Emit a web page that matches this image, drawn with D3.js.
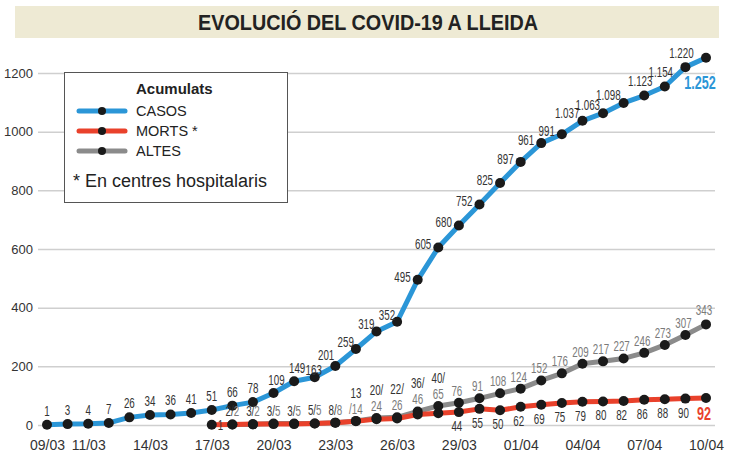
<html>
<head>
<meta charset="utf-8">
<title>Evolució del COVID-19 a Lleida</title>
<script src="https://d3js.org/d3.v7.min.js"></script>
<style>
    body { margin: 0; background: #fff; }
    svg text { font-family: "Liberation Sans", Arial, sans-serif; }
</style>
</head>
<body>
<svg id="chart" width="737" height="461"></svg>
<script>
// dates (dd/mm, 2020)
var dates = ["09/03","10/03","11/03","12/03","13/03","14/03","15/03","16/03","17/03","18/03","19/03",
             "20/03","21/03","22/03","23/03","24/03","25/03","26/03","27/03","28/03","29/03","30/03",
             "31/03","01/04","02/04","03/04","04/04","05/04","06/04","07/04","08/04","09/04","10/04"];
var tickDates = ["09/03","11/03","14/03","17/03","20/03","23/03","26/03","29/03","01/04","04/04","07/04","10/04"];
var yTicks = [0, 200, 400, 600, 800, 1000, 1200];

// acumulats
var casos = [1, 3, 4, 7, 26, 34, 36, 41, 51, 66, 78, 109, 149, 163, 201, 259, 319, 352, 495, 605, 680,
             752, 825, 897, 961, 991, 1037, 1063, 1098, 1123, 1154, 1220, 1252];
// morts start on 17/03, altes on 18/03
var mortsStart = "17/03";
var morts = [1, 2, 3, 3, 3, 5, 8, 13, 20, 22, 36, 40, 44, 55, 50, 62, 69, 75, 79, 80, 82, 86, 88, 90, 92];
var altesStart = "18/03";
var altes = [2, 2, 5, 5, 5, 8, 14, 24, 26, 46, 65, 76, 91, 108, 124, 152, 176, 209, 217, 227, 246, 273, 307, 343];

var blue = "#2b96d7", red = "#e9412b", grey = "#8b8b8b";
var darkText = "#333", greyText = "#7a7a7a";

var svg = d3.select("#chart");
var parse = d3.timeParse("%d/%m/%Y");
function toDate(s){ return parse(s + "/2020"); }

var x = d3.scaleTime()
    .domain([toDate(dates[0]), toDate(dates[dates.length - 1])])
    .range([47, 706]);
var y = d3.scaleLinear().domain([0, 1200]).range([425, 73]);

var fmt = d3.formatLocale({decimal: ",", thousands: ".", grouping: [3], currency: ["", "€"]}).format(",d");

function series(start, values){
    var k = dates.indexOf(start);
    return values.map(function(v, i){ return {i: k + i, date: toDate(dates[k + i]), value: v}; });
}
var casosData = series(dates[0], casos);
var mortsData = series(mortsStart, morts);
var altesData = series(altesStart, altes);

// title band
svg.append("rect").attr("x", 15).attr("y", 6).attr("width", 704).attr("height", 32).attr("fill", "#eeead4");
svg.append("text").attr("transform", "translate(368,30) scale(0.9,1)").attr("text-anchor", "middle")
    .attr("font-size", 22).attr("font-weight", "bold").attr("fill", "#222")
    .text("EVOLUCIÓ DEL COVID-19 A LLEIDA");

// grid + y labels
var yAxis = d3.axisLeft(y).tickValues(yTicks).tickFormat(d3.format("d")).tickSize(-677).tickPadding(5);
var gy = svg.append("g").attr("transform", "translate(38,0)").call(yAxis);
gy.select(".domain").remove();
gy.selectAll(".tick line").attr("stroke", "#cfcfcf").attr("stroke-width", 1.5);
gy.selectAll(".tick text").attr("font-size", 13).attr("fill", darkText).attr("font-family", null);

// x labels
var xAxis = d3.axisBottom(x).tickValues(tickDates.map(toDate)).tickFormat(d3.timeFormat("%d/%m")).tickSize(0).tickPadding(0);
var gx = svg.append("g").attr("transform", "translate(0,440)").call(xAxis);
gx.select(".domain").remove();
gx.selectAll(".tick text").attr("font-size", 14).attr("fill", darkText).attr("font-family", null);

// legend box
var lg = svg.append("g");
lg.append("rect").attr("x", 64.5).attr("y", 72.5).attr("width", 223).attr("height", 130)
    .attr("fill", "#fff").attr("stroke", "#555").attr("stroke-width", 1);
lg.append("text").attr("x", 136).attr("y", 89).attr("dy", "0.35em").attr("font-size", 15).attr("font-weight", "bold")
    .attr("fill", "#222").text("Acumulats");
var legendItems = [["CASOS", blue], ["MORTS *", red], ["ALTES", grey]];
legendItems.forEach(function(d, k){
    var ly = 111 + k * 20;
    lg.append("line").attr("x1", 79).attr("x2", 125).attr("y1", ly).attr("y2", ly)
        .attr("stroke", d[1]).attr("stroke-width", 5).attr("stroke-linecap", "round");
    lg.append("circle").attr("cx", 102).attr("cy", ly).attr("r", 4).attr("fill", "#1a1a1a");
    lg.append("text").attr("x", 136).attr("y", ly).attr("dy", "0.35em").attr("font-size", 14.5)
        .attr("fill", "#222").text(d[0]);
});
lg.append("text").attr("x", 73).attr("y", 181).attr("dy", "0.35em").attr("font-size", 18)
    .attr("fill", "#222").text("* En centres hospitalaris");

// lines
var line = d3.line().x(function(d){ return x(d.date); }).y(function(d){ return y(d.value); });
function drawSeries(data, color){
    svg.append("path").datum(data).attr("d", line).attr("fill", "none")
        .attr("stroke", color).attr("stroke-width", 5).attr("stroke-linejoin", "round");
}
drawSeries(altesData, grey);
drawSeries(mortsData, red);
drawSeries(casosData, blue);

[altesData, mortsData, casosData].forEach(function(data){
    svg.append("g").selectAll("circle").data(data).join("circle")
        .attr("cx", function(d){ return x(d.date); })
        .attr("cy", function(d){ return y(d.value); })
        .attr("r", 5).attr("fill", "#1a1a1a");
});

// labels (squeezed horizontally, the original uses a condensed face)
var labels = svg.append("g").attr("font-size", 14);
function label(px, py, txt, anchor, color){
    return labels.append("text").attr("transform", "translate(" + px + "," + py + ") scale(0.7,1)")
        .attr("dy", "0.35em").attr("text-anchor", anchor).attr("fill", color).text(txt);
}

casosData.forEach(function(d){
    var px = x(d.date), py = y(d.value), i = d.i, t = fmt(d.value);
    if (i <= 10) label(px, py - 14, t, "middle", darkText);
    else if (i <= 12) label(px + 3, py - 13, t, "middle", darkText);
    else if (i == 13) label(px - 1, py - 7, t, "middle", darkText);
    else if (i == 14) label(px - 1, py - 11, t, "end", darkText);
    else if (i <= 17) label(px - 2, py - 7, t, "end", darkText);
    else if (i <= 25) label(px - 7, py - 3, t, "end", darkText);
    else if (i <= 28) label(px - 3, py - 8, t, "end", darkText);
    else if (i <= 31) label(px - 4, py - 14, t, "middle", darkText);
    else label(px - 6, py + 25, t, "middle", blue).attr("font-size", 18).attr("font-weight", "bold");
});

mortsData.forEach(function(d){
    var a = altesData.find(function(e){ return e.i == d.i; });
    var px = x(d.date), py = y(d.value), i = d.i;
    if (!a) {
        label(px + 6, py, fmt(d.value), "start", darkText);
    } else if (i <= 14) {
        var t = label(px, py - 13, "", "middle", darkText);
        t.append("tspan").attr("fill", darkText).text(d.value + "/");
        t.append("tspan").attr("fill", greyText).text(a.value);
    } else if (i <= 19) {
        var low = Math.min(py, y(a.value)) - 12;
        label(px, low - 16, d.value + (i > 15 ? "/" : ""), "middle", darkText);
        label(px, low, (i == 15 ? "/" : "") + a.value, "middle", greyText);
    } else {
        var last = i == dates.length - 1;
        label(px - 2, py + (last ? 16 : 14), fmt(d.value), "middle", last ? red : darkText)
            .attr("font-size", last ? 18 : 14).attr("font-weight", last ? "bold" : null);
        label(px - 2, y(a.value) - (last ? 14 : 12), fmt(a.value), "middle", greyText);
    }
});
</script>
</body>
</html>
